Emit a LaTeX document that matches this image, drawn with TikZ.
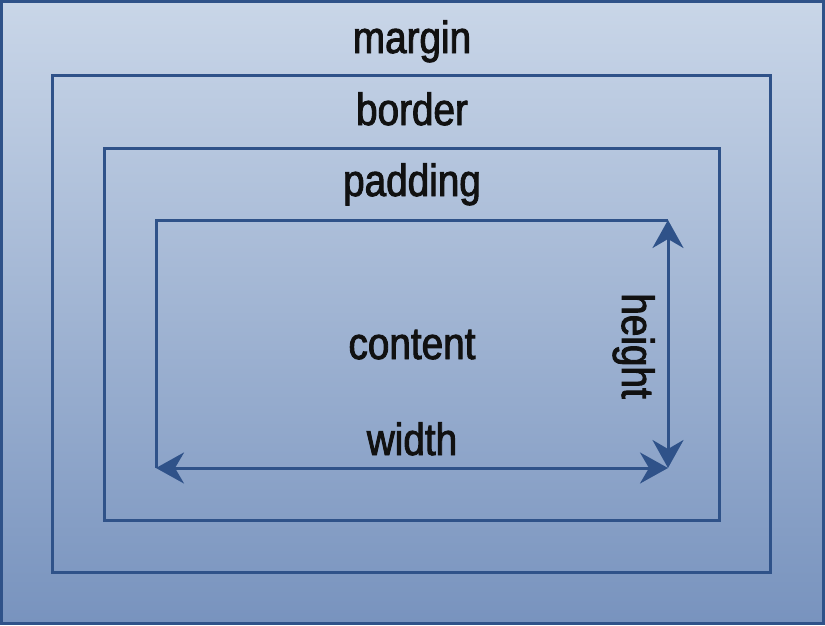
\documentclass[tikz,border=0pt]{standalone}
\usepackage{fontspec}
\setmainfont{Liberation Sans}[FakeStretch=0.86,FakeBold=2]
\usetikzlibrary{arrows.meta}
\definecolor{boxline}{RGB}{47,82,137}
\definecolor{bgtop}{RGB}{201,214,232}
\definecolor{bgbot}{RGB}{120,147,190}
\definecolor{ink}{RGB}{17,17,17}
\begin{document}
\begin{tikzpicture}[x=1pt,y=-1pt,
  boxrect/.style={draw=boxline,line width=3pt,rectangle,inner sep=0pt,outer sep=0pt},
  lbl/.style={font=\fontsize{45}{50}\selectfont,text=ink,anchor=base,inner sep=0pt},
  dimarrow/.style={draw=boxline,line width=3pt,{Stealth[length=28pt,width=31pt,inset=9pt]}-{Stealth[length=28pt,width=31pt,inset=9pt]}}]
\useasboundingbox (0,0) rectangle (825,625);
\node[boxrect,top color=bgtop,bottom color=bgbot,minimum width=822pt,minimum height=622pt] (margin) at (412.5,312.5) {};
\node[boxrect,minimum width=718pt,minimum height=497pt] (border) at (411,323.5) {};
\node[boxrect,minimum width=615pt,minimum height=372pt] (padding) at (411.5,334) {};
\node[rectangle,inner sep=0pt,outer sep=0pt,minimum width=512pt,minimum height=248pt] (content) at (412,344) {};
\draw[draw=boxline,line width=3pt] (content.south west) -- (content.north west) -- (content.north east);
\draw[dimarrow] (content.south west) -- (content.south east);
\draw[dimarrow] (content.north east) -- (content.south east);
\node[lbl] (tmargin) at (412,53) {margin};
\node[lbl] (tborder) at (412,125) {border};
\node[lbl] (tpadding) at (412,196) {padding};
\node[lbl] (tcontent) at (412,359) {content};
\node[lbl] (twidth) at (412,455) {width};
\node[lbl,rotate=-90] (theight) at (622,346) {height};
\end{tikzpicture}
\end{document}
